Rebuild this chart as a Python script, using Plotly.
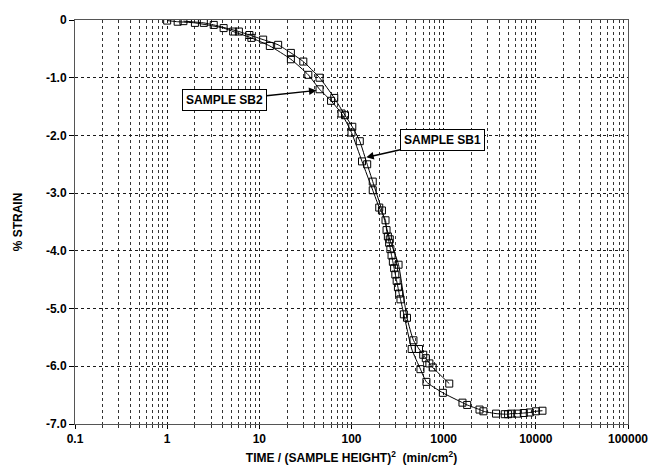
import plotly.graph_objects as go

# ---- data ----
sb1_x = [1.5, 2.5, 3.2, 6.0, 7.8, 11, 16, 22, 30, 45, 65, 85, 102, 123, 148, 170, 214,
         260, 324, 400, 470, 540, 600, 640, 700, 760, 1150]
sb1_y = [-0.02, -0.05, -0.085, -0.2, -0.26, -0.34, -0.43, -0.57, -0.72, -1.0, -1.35, -1.65,
         -1.85, -2.1, -2.5, -2.8, -3.3, -3.8, -4.24, -5.16, -5.55, -5.7, -5.8, -5.86, -5.95,
         -6.02, -6.3]

sb2_x = [1.0, 1.3, 2.0, 4.1, 5.2, 8.2, 13, 22, 34, 45, 60, 78, 100, 130, 170, 200, 234,
         240, 248, 256, 264, 272, 281, 290, 299, 309, 319, 329, 340,
         370, 450, 560, 650, 980, 1600, 1800, 2450, 2700, 3700, 4600, 5000, 5400, 6300,
         7400, 8600, 10000, 11800]
sb2_y = [-0.01, -0.03, -0.05, -0.14, -0.2, -0.31, -0.45, -0.68, -0.95, -1.2, -1.4, -1.62,
         -1.95, -2.45, -2.95, -3.25, -3.47,
         -3.64, -3.75, -3.86, -3.97, -4.08, -4.19, -4.30, -4.41, -4.52, -4.63, -4.74, -4.84,
         -5.1, -5.7, -6.05, -6.27, -6.46, -6.63, -6.67, -6.75, -6.78, -6.82, -6.83, -6.83,
         -6.82, -6.82, -6.81, -6.8, -6.78, -6.77]

y_ticks = [0, -1, -2, -3, -4, -5, -6, -7]
y_tick_text = ["0", "-1.0", "-2.0", "-3.0", "-4.0", "-5.0", "-6.0", "-7.0"]
x_ticks = [0.1, 1, 10, 100, 1000, 10000, 100000]
x_tick_text = ["0.1", "1", "10", "100", "1000", "10000", "100000"]

FONT = "Liberation Sans, Arial, Helvetica, sans-serif"

fig = go.Figure()
for xs, ys, name in [(sb1_x, sb1_y, "SAMPLE SB1"), (sb2_x, sb2_y, "SAMPLE SB2")]:
    fig.add_trace(go.Scatter(
        x=xs, y=ys, name=name, mode="lines+markers",
        line=dict(color="black", width=1, shape="spline", smoothing=0.5),
        marker=dict(symbol="square-open", size=7, color="black", line=dict(width=1)),
        showlegend=False))

ann_common = dict(
    xref="x", yref="y", showarrow=True, arrowhead=2, arrowsize=1, arrowwidth=1.5,
    arrowcolor="black", axref="pixel", ayref="pixel",
    font=dict(family=FONT, size=12, color="black", weight="bold"),
    bgcolor="white", bordercolor="black", borderwidth=1, borderpad=3)

fig.add_annotation(x=1.62, y=-1.22, text="SAMPLE SB2", ax=-92, ay=10, **ann_common)
fig.add_annotation(x=2.16, y=-2.38, text="SAMPLE SB1", ax=76, ay=-17, **ann_common)

fig.update_layout(
    width=660, height=475,
    margin=dict(l=75, r=21, t=20, b=45),
    paper_bgcolor="white", plot_bgcolor="white",
    font=dict(family=FONT, size=12, color="black"),
)

fig.update_xaxes(
    type="log", range=[-1, 5],
    tickvals=x_ticks, ticktext=x_tick_text,
    tickfont=dict(family=FONT, size=12, color="black", weight="bold"),
    ticks="outside", ticklen=4, tickcolor="black",
    showgrid=True, gridcolor="#1a1a1a", gridwidth=1, griddash="dot",
    minor=dict(dtick="D1", showgrid=True, gridcolor="#333333", gridwidth=1, griddash="dot",
               ticks="outside", ticklen=3, tickcolor="#333333"),
    showline=True, linecolor="#555555", linewidth=1, mirror=True,
    zeroline=False,
    title=dict(text="TIME / (SAMPLE HEIGHT)<sup>2</sup>  (min/cm<sup>2</sup>)",
               font=dict(family=FONT, size=12, color="black", weight="bold"), standoff=8),
)

fig.update_yaxes(
    range=[-7, 0],
    tickvals=y_ticks, ticktext=y_tick_text,
    tickfont=dict(family=FONT, size=12, color="black", weight="bold"),
    ticks="outside", ticklen=5, tickcolor="black",
    showgrid=True, gridcolor="#1a1a1a", gridwidth=1, griddash="dot",
    showline=True, linecolor="#555555", linewidth=1, mirror=True,
    zeroline=False,
    title=dict(text="% STRAIN",
               font=dict(family=FONT, size=12, color="black", weight="bold"), standoff=20),
)

fig.write_html("out.html")
